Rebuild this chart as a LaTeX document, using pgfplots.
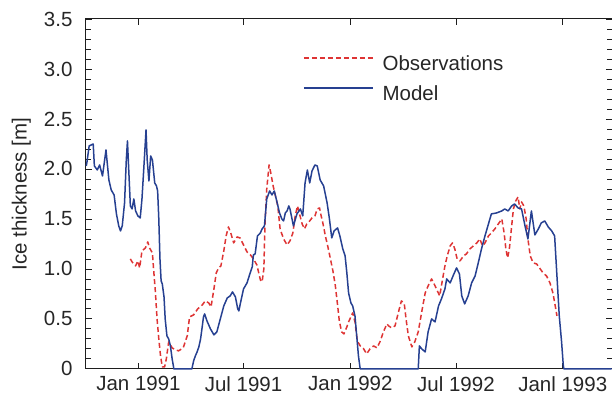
\documentclass[border=0pt]{standalone}
\usepackage{fontspec}
\setmainfont{Liberation Sans}
\usepackage{pgfplots}
\pgfplotsset{compat=1.18}
\definecolor{modelblue}{RGB}{38,64,145}
\definecolor{obsred}{RGB}{222,52,52}
\definecolor{axgray}{RGB}{30,30,30}
\begin{document}
\begin{tikzpicture}
\begin{axis}[
  scale only axis,
  width=526bp, height=350bp,
  xmin=-91, xmax=815, ymin=0, ymax=3.5,
  axis line style={draw=none},
  tick align=inside,
  major tick length=6bp, minor tick length=5bp,
  every tick/.style={axgray, line width=0.8bp},
  xtick={0,181,365,547,731},
  xticklabels={Jan 1991,Jul 1991,Jan 1992,Jul 1992,Janl 1993},
  ytick={0,0.5,1,1.5,2,2.5,3,3.5},
  yticklabels={0,0.5,1.0,1.5,2.0,2.5,3.0,3.5},
  minor y tick num=4,
  /pgf/number format/assume math mode=true,
  tick label style={font=\fontsize{20.5bp}{24bp}\selectfont, text=black!85},
  yticklabel style={inner sep=0pt, xshift=-13bp},
  xticklabel style={inner sep=0pt, yshift=-7.5bp},
  ylabel={Ice thickness [m]},
  ylabel style={at={(rel axis cs:-0.1125,0.5)}, anchor=base, inner sep=0pt, font=\fontsize{20.5bp}{24bp}\selectfont, text=black!85},
  legend style={at={(rel axis cs:0.4131,0.9229)}, anchor=north west, draw=none, fill=none, inner sep=0pt,
    font=\fontsize{20.5bp}{24bp}\selectfont, text=black!85,
    cells={anchor=west}, nodes={inner sep=0pt, text height=24bp, text depth=0bp},
    row sep=6bp, column sep=9bp},
  legend image code/.code={\draw[#1] (0bp,0bp) -- (69bp,0bp);},
  clip=false,
]
\draw[axgray, line width=1bp] (rel axis cs:1,1) -- (rel axis cs:0,1) -- (rel axis cs:0,0) -- (rel axis cs:1,0);
\addplot[obsred, line width=1.5bp, dash pattern=on 5bp off 3bp, line join=round] coordinates {
(-14,1.10) (-11,1.07) (-5,1.03) (-1,1.08) (2,1.01) (6,1.18) (12,1.21) (16,1.27) (19,1.21) (24,1.16)
(26,1.00) (29,0.78) (32,0.50) (35,0.30) (38,0.13) (41,0.02) (45,0.02) (48,0.10) (52,0.27) (58,0.21)
(64,0.19) (69,0.18) (77,0.21) (84,0.33) (88,0.52) (95,0.54) (102,0.60) (110,0.64) (115,0.68) (121,0.66)
(125,0.62) (130,0.80) (134,0.96) (138,1.01) (142,1.03) (147,1.18) (151,1.33) (155,1.42) (159,1.36) (164,1.26)
(170,1.32) (175,1.31) (181,1.24) (187,1.17) (193,1.14) (198,1.10) (204,1.04) (210,0.89) (213,0.87) (216,1.00)
(218,1.45) (221,1.80) (225,2.04) (228,1.96) (232,1.83) (236,1.73) (240,1.63) (244,1.40) (250,1.30) (256,1.24)
(261,1.28) (266,1.36) (270,1.53) (274,1.63) (277,1.56) (282,1.45) (286,1.40) (290,1.45) (295,1.48) (299,1.51)
(304,1.53) (308,1.60) (312,1.61) (314,1.55) (318,1.45) (322,1.33) (326,1.23) (330,1.12) (335,0.98) (339,0.84)
(343,0.64) (346,0.48) (350,0.37) (354,0.35) (359,0.42) (362,0.47) (366,0.52) (369,0.56) (373,0.47) (377,0.28)
(382,0.23) (388,0.20) (393,0.15) (399,0.20) (405,0.23) (411,0.21) (416,0.27) (422,0.37) (428,0.45) (431,0.43)
(436,0.41) (442,0.43) (448,0.57) (453,0.68) (458,0.65) (461,0.50) (465,0.33) (471,0.22) (476,0.27) (482,0.37)
(488,0.57) (494,0.76) (499,0.83) (505,0.90) (511,0.83) (515,0.78) (519,0.73) (524,0.90) (528,1.03) (532,1.13)
(537,1.23) (541,1.26) (545,1.20) (549,1.10) (554,1.08) (560,1.13) (565,1.15) (571,1.20) (577,1.23) (583,1.26)
(588,1.30) (593,1.23) (597,1.26) (603,1.33) (608,1.36) (614,1.40) (620,1.45) (626,1.50) (630,1.36) (633,1.20)
(636,1.11) (639,1.20) (643,1.43) (646,1.60) (650,1.68) (654,1.72) (657,1.60) (660,1.67) (664,1.63) (668,1.50)
(671,1.30) (675,1.13) (680,1.06) (686,1.05) (691,1.01) (697,0.96) (703,0.93) (709,0.86) (714,0.76) (719,0.60)
(721,0.53)
};
\addlegendentry{Observations}
\addplot[modelblue, line width=1.5bp, line join=round] coordinates {
(-90,2.03) (-89,2.06) (-85,2.23) (-78,2.25) (-76,2.03) (-71,1.99) (-67,2.04) (-62,1.93) (-56,2.19) (-51,1.89)
(-47,1.79) (-42,1.74) (-38,1.55) (-34,1.43) (-31,1.38) (-28,1.43) (-24,1.66) (-21,2.09) (-19,2.28) (-16,1.89)
(-14,1.63) (-11,1.60) (-8,1.70) (-5,1.58) (-1,1.53) (3,1.51) (6,1.70) (9,1.99) (13,2.39) (15,2.09)
(18,1.88) (21,2.13) (24,2.09) (28,1.86) (31,1.83) (33,1.78) (35,1.50) (37,1.10) (39,0.88) (41,0.85)
(44,0.72) (46,0.50) (49,0.33) (52,0.30) (55,0.23) (58,0.10) (61,0) (92,0) (95,0.08) (98,0.13)
(101,0.17) (104,0.22) (107,0.30) (110,0.43) (112,0.52) (114,0.55) (118,0.48) (124,0.40) (130,0.34) (135,0.37)
(141,0.50) (147,0.63) (153,0.71) (158,0.73) (162,0.77) (167,0.72) (171,0.60) (173,0.58) (175,0.64) (181,0.80)
(187,0.86) (193,0.97) (196,1.02) (198,1.14) (201,1.15) (205,1.33) (210,1.36) (213,1.40) (217,1.43) (221,1.70)
(226,1.78) (230,1.74) (234,1.78) (239,1.66) (243,1.56) (247,1.50) (250,1.48) (253,1.56) (256,1.58) (259,1.63)
(261,1.60) (267,1.43) (273,1.55) (279,1.60) (283,1.53) (287,1.86) (291,1.99) (295,1.86) (299,1.98) (304,2.04)
(308,2.03) (313,1.89) (319,1.83) (325,1.66) (329,1.50) (333,1.31) (337,1.38) (343,1.41) (347,1.33) (352,1.20)
(356,1.13) (359,0.96) (362,0.76) (366,0.66) (369,0.63) (373,0.53) (376,0.33) (379,0.13) (382,0) (482,0)
(484,0.23) (488,0.20) (494,0.17) (499,0.37) (505,0.50) (511,0.47) (517,0.63) (522,0.70) (528,0.80) (531,0.90)
(537,0.86) (542,0.93) (548,1.01) (553,0.95) (557,0.73) (562,0.65) (568,0.73) (574,0.86) (580,0.93) (585,1.05)
(591,1.20) (597,1.33) (603,1.45) (608,1.55) (617,1.56) (626,1.58) (631,1.60) (637,1.58) (643,1.63) (648,1.65)
(654,1.61) (660,1.60) (666,1.43) (671,1.30) (677,1.58) (683,1.34) (689,1.40) (694,1.46) (700,1.48) (706,1.42)
(712,1.38) (717,1.33) (720,1.03) (725,0.53) (729,0.27) (732,0.03) (733,0) (815,0)
};
\addlegendentry{Model}
\coordinate (ll) at (rel axis cs:0,0);
\coordinate (ur) at (rel axis cs:1,1);
\end{axis}
\pgfresetboundingbox
\path[use as bounding box] ([xshift=-85.7bp,yshift=-26.7bp]ll) rectangle ([xshift=0.5bp,yshift=19bp]ur);
\end{tikzpicture}
\end{document}
